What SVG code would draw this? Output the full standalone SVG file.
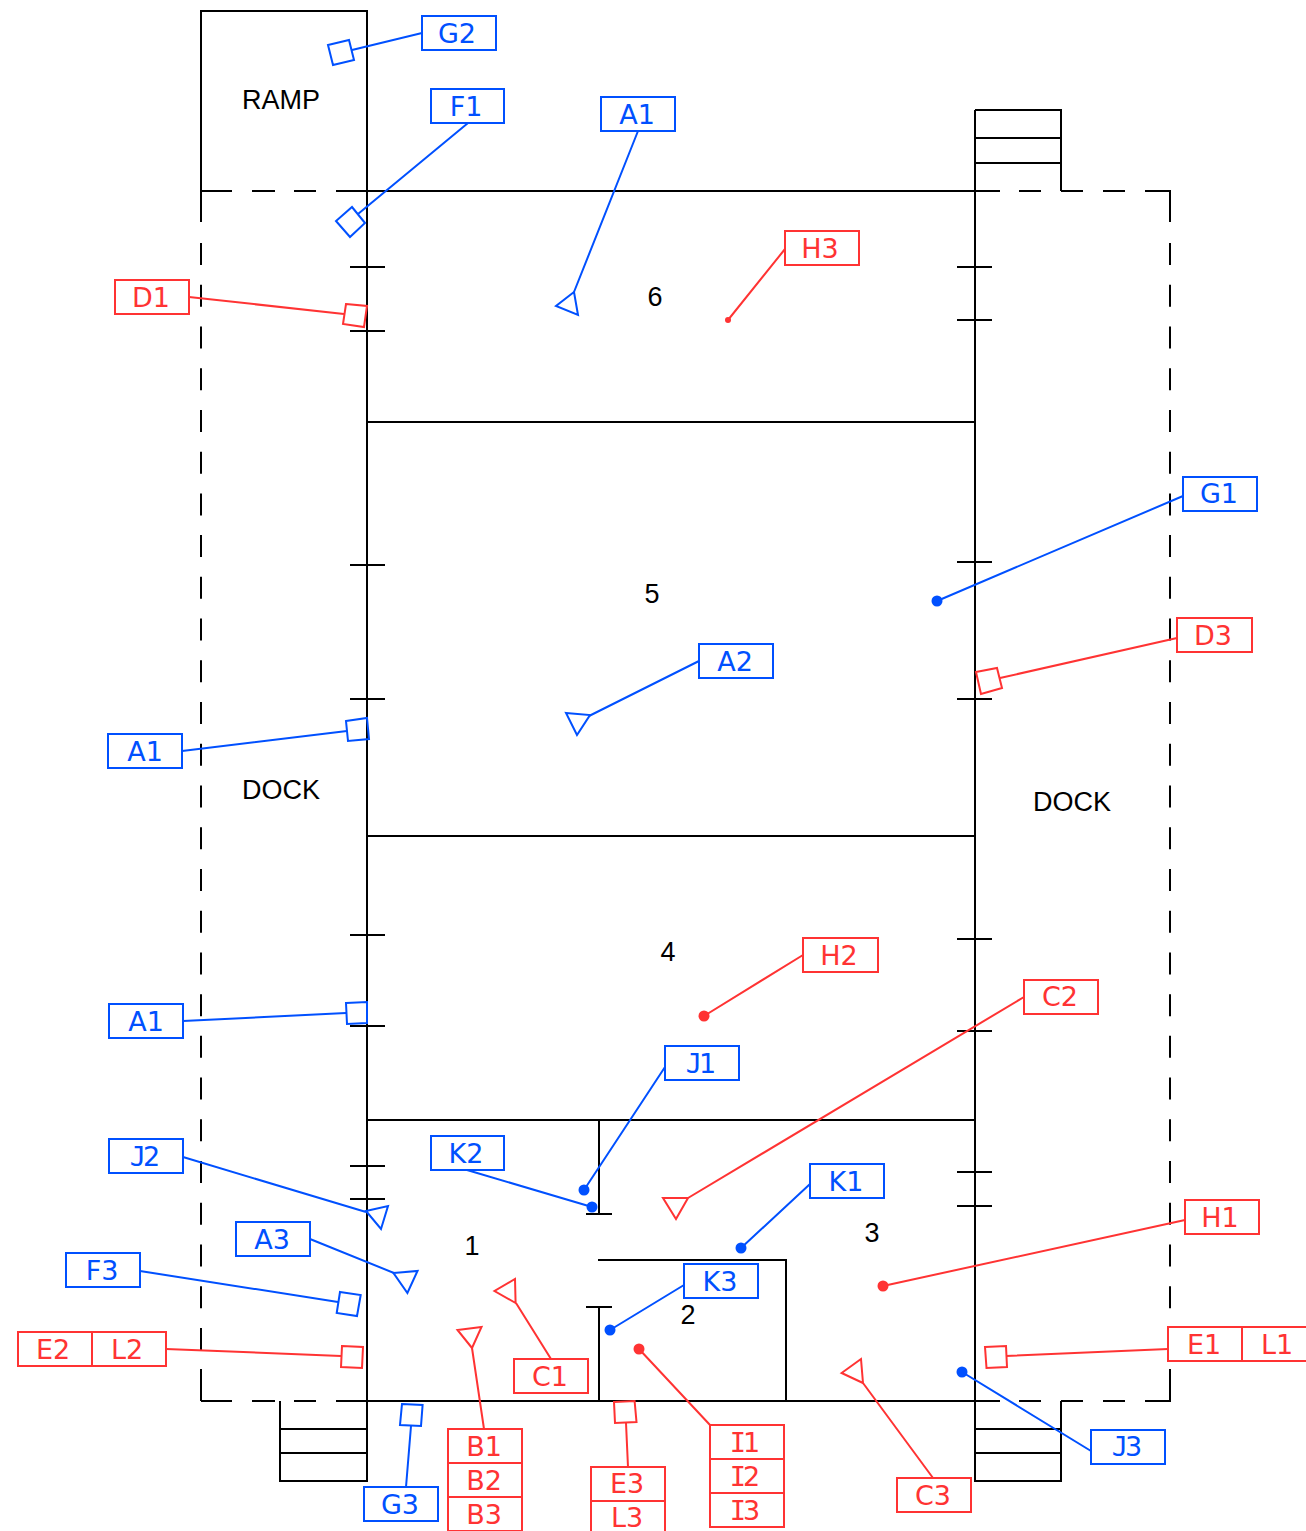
<svg xmlns="http://www.w3.org/2000/svg" width="1306" height="1531" viewBox="0 0 1306 1531">
<style>
.w{fill:none;stroke:#000;stroke-width:2}
.d{stroke-dasharray:22 19.73}
.b{fill:#fff;stroke:#0050ff;stroke-width:2}
.r{fill:#fff;stroke:#ff3333;stroke-width:2}
.bl{fill:none;stroke:#0050ff;stroke-width:2}
.rl{fill:none;stroke:#ff3333;stroke-width:2}
.bd{fill:#0050ff}
.rd{fill:#ff3333}
text{font-size:27px;text-anchor:middle}
.t{font-family:"Liberation Sans",Arial,sans-serif;fill:#000}
.lb{font-family:"DejaVu Sans",Verdana,sans-serif;fill:#0050ff}
.lr{font-family:"DejaVu Sans",Verdana,sans-serif;fill:#ff3333}
.m{font-family:"DejaVu Sans Mono",monospace;letter-spacing:-3px}
</style>
<rect width="1306" height="1531" fill="#fff"/>
<g id="plan">
<path class="w" d="M201 191V11H367V1481H280V1401M280 1429H367M280 1453H367M367 191H1000M367 422H975M367 836H975M367 1120H975M367 1401H1000M975 110V1481H1061V1401M975 110H1061V191M975 138H1061M975 163H1061M975 1429H1061M975 1453H1061"/>
<path class="w" d="M599 1120V1214M586 1214H612M598 1260H786V1401M599 1307V1401M586 1307H612"/>
<path class="w" d="M350 267H385M350 331H385M350 565H385M350 699H385M350 935H385M350 1026H385M350 1166H385M350 1199H385M957 267H992M957 320H992M957 562H992M957 699H992M957 939H992M957 1031H992M957 1172H992M957 1206H992"/>
<path class="w" d="M201 191H232M252 191H275M294 191H316M336 191H367M1019 191H1041M1061 191H1083M1103 191H1125M1145 191H1170V222M201 1401H232M252 1401H275M294 1401H316M336 1401H367M1019 1401H1041M1061 1401H1083M1103 1401H1125M1145 1401H1170V1369M201 191V222M201 1369V1401"/>
<path class="w d" d="M201 243V1350M1170 243V1350"/>
<text class="t" x="281" y="109">RAMP</text>
<text class="t" x="281" y="799">DOCK</text>
<text class="t" x="1072" y="811">DOCK</text>
<text class="t" x="655" y="306">6</text>
<text class="t" x="652" y="603">5</text>
<text class="t" x="668" y="961">4</text>
<text class="t" x="472" y="1255">1</text>
<text class="t" x="688" y="1324">2</text>
<text class="t" x="872" y="1242">3</text>
</g>
<g id="connectors">
<path class="bl" d="M422 33L352 50M468 123L358 214M638 131L574 292M182 751L347 731M183 1021L346 1013M1183 496L937 601M699 661L589 716M665 1067L584 1190M467 1170L592 1207M810 1184L741 1248M684 1285L610 1330M183 1157L366 1212M310 1239L394 1273M140 1271L338 1302M406 1487L411 1426M1091 1451L962 1372"/>
<path class="rl" d="M785 249L728 320M189 297L344 314M1177 638L1000 678M803 955L704 1016M1024 997L688 1198M166 1349L341 1356M551 1359L516 1303M484 1429L472 1348M628 1467L626 1423M710 1425L639 1349M1185 1220L883 1286M933 1478L863 1383M1168 1349L1006 1356"/>
</g>
<g id="n-g2"><polygon class="bl" points="328,45 349,40 354,60 333,65"/><rect class="b" x="422" y="16" width="74" height="34"/><text class="lb" x="457" y="43">G2</text></g>
<g id="n-f1"><polygon class="bl" points="352,207 365,223 350,237 336,221"/><rect class="b" x="431" y="89" width="73" height="34"/><text class="lb" x="466" y="116">F1</text></g>
<g id="n-a1a"><polygon class="bl" points="574,292 556,306 578,315"/><rect class="b" x="601" y="97" width="74" height="34"/><text class="lb" x="637" y="124">A1</text></g>
<g id="n-h3"><circle class="rd" cx="728" cy="320" r="3"/><rect class="r" x="785" y="231" width="74" height="34"/><text class="lr" x="820" y="258">H3</text></g>
<g id="n-d1"><polygon class="rl" points="346,304 367,306 364,327 343,324"/><rect class="r" x="115" y="280" width="74" height="34"/><text class="lr" x="151" y="307">D1</text></g>
<g id="n-g1"><circle class="bd" cx="937" cy="601" r="5.5"/><rect class="b" x="1183" y="477" width="74" height="34"/><text class="lb" x="1219" y="503">G1</text></g>
<g id="n-d3"><polygon class="rl" points="976,672 997,668 1002,688 981,694"/><rect class="r" x="1177" y="618" width="75" height="34"/><text class="lr" x="1213" y="645">D3</text></g>
<g id="n-a2"><polygon class="bl" points="566,713 590,715 577,735"/><rect class="b" x="699" y="644" width="74" height="34"/><text class="lb" x="735" y="671">A2</text></g>
<g id="n-a1b"><polygon class="bl" points="346,721 367,718 369,739 348,741"/><rect class="b" x="108" y="734" width="74" height="34"/><text class="lb" x="145" y="761">A1</text></g>
<g id="n-a1c"><polygon class="bl" points="346,1003 367,1002 367,1023 347,1024"/><rect class="b" x="109" y="1004" width="74" height="34"/><text class="lb" x="146" y="1031">A1</text></g>
<g id="n-h2"><circle class="rd" cx="704" cy="1016" r="5.5"/><rect class="r" x="803" y="938" width="75" height="34"/><text class="lr" x="839" y="965">H2</text></g>
<g id="n-c2"><polygon class="rl" points="663,1198 688,1198 676,1219"/><rect class="r" x="1024" y="980" width="74" height="34"/><text class="lr" x="1060" y="1006">C2</text></g>
<g id="n-j1"><circle class="bd" cx="584" cy="1190" r="5.5"/><rect class="b" x="665" y="1046" width="74" height="34"/><text class="lb" x="701" y="1073"><tspan class="m">J</tspan>1</text></g>
<g id="n-j2"><polygon class="bl" points="366,1211 388,1206 381,1229"/><rect class="b" x="109" y="1139" width="74" height="34"/><text class="lb" x="145" y="1166"><tspan class="m">J</tspan>2</text></g>
<g id="n-k2"><circle class="bd" cx="592" cy="1207" r="5.5"/><rect class="b" x="431" y="1136" width="73" height="34"/><text class="lb" x="466" y="1163">K2</text></g>
<g id="n-k1"><circle class="bd" cx="741" cy="1248" r="5.5"/><rect class="b" x="810" y="1164" width="74" height="34"/><text class="lb" x="846" y="1191">K1</text></g>
<g id="n-a3"><polygon class="bl" points="393.5,1273 417.5,1271 407.4,1293"/><rect class="b" x="236" y="1222" width="74" height="34"/><text class="lb" x="272" y="1249">A3</text></g>
<g id="n-h1"><circle class="rd" cx="883" cy="1286" r="5.5"/><rect class="r" x="1185" y="1200" width="74" height="34"/><text class="lr" x="1220" y="1227">H1</text></g>
<g id="n-f3"><polygon class="bl" points="340,1292 360.7,1295 357,1316 336.7,1313"/><rect class="b" x="66" y="1253" width="74" height="34"/><text class="lb" x="102" y="1280">F3</text></g>
<g id="n-k3"><circle class="bd" cx="610" cy="1330" r="5.5"/><rect class="b" x="684" y="1264" width="74" height="34"/><text class="lb" x="720" y="1291">K3</text></g>
<g id="n-e2"><polygon class="rl" points="342,1346 363,1347 362,1368 341,1367"/><rect class="r" x="18" y="1332" width="74" height="34"/><rect class="r" x="92" y="1332" width="74" height="34"/><text class="lr" x="53" y="1359">E2</text><text class="lr" x="127" y="1359">L2</text></g>
<g id="n-e1"><polygon class="rl" points="985,1347 1006,1346 1007,1367 986.5,1368"/><rect class="r" x="1168" y="1327" width="74" height="34"/><rect class="r" x="1242" y="1327" width="74" height="34"/><text class="lr" x="1204" y="1354">E1</text><text class="lr" x="1277" y="1354">L1</text></g>
<g id="n-c1"><polygon class="rl" points="515.6,1303 494.5,1291 515,1279"/><rect class="r" x="514" y="1359" width="74" height="34"/><text class="lr" x="550" y="1386">C1</text></g>
<g id="n-b"><polygon class="rl" points="472,1348 457.5,1330 481.5,1327"/><rect class="r" x="448" y="1429" width="74" height="34"/><rect class="r" x="448" y="1463" width="74" height="34"/><rect class="r" x="448" y="1497" width="74" height="34"/><text class="lr" x="484" y="1456">B1</text><text class="lr" x="484" y="1490">B2</text><text class="lr" x="484" y="1524">B3</text></g>
<g id="n-g3"><polygon class="bl" points="402,1404 422.6,1405 421,1426 400,1425"/><rect class="b" x="364" y="1487" width="74" height="34"/><text class="lb" x="400" y="1514">G3</text></g>
<g id="n-e3"><polygon class="rl" points="614,1402 634.6,1401 636.5,1422 615,1423"/><rect class="r" x="591" y="1467" width="74" height="34"/><rect class="r" x="591" y="1501" width="74" height="34"/><text class="lr" x="627" y="1493">E3</text><text class="lr" x="627" y="1527">L3</text></g>
<g id="n-i"><circle class="rd" cx="639" cy="1349" r="5.5"/><rect class="r" x="710" y="1425" width="74" height="34"/><rect class="r" x="710" y="1459" width="74" height="34"/><rect class="r" x="710" y="1493" width="74" height="34"/><text class="lr" x="745" y="1452"><tspan class="m">I</tspan>1</text><text class="lr" x="745" y="1486"><tspan class="m">I</tspan>2</text><text class="lr" x="745" y="1520"><tspan class="m">I</tspan>3</text></g>
<g id="n-c3"><polygon class="rl" points="861,1359 841.6,1373 863,1383"/><rect class="r" x="897" y="1478" width="74" height="34"/><text class="lr" x="933" y="1505">C3</text></g>
<g id="n-j3"><circle class="bd" cx="962" cy="1372" r="5.5"/><rect class="b" x="1091" y="1430" width="74" height="34"/><text class="lb" x="1127" y="1456"><tspan class="m">J</tspan>3</text></g>
</svg>
